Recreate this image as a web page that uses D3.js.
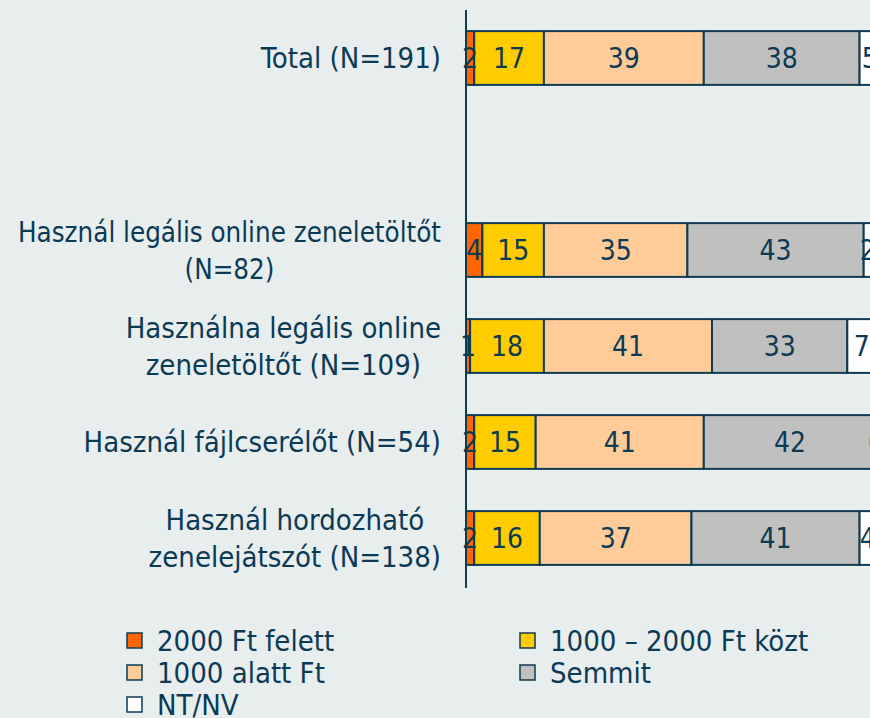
<!DOCTYPE html>
<html>
<head>
<meta charset="utf-8">
<script src="https://cdn.jsdelivr.net/npm/d3@7"></script>
<style>
  body { margin: 0; background: #e8edee; }
  svg { display: block; }
  text { font-family: "DejaVu Sans Condensed", "DejaVu Sans", sans-serif; fill: #0b3a55; }
</style>
</head>
<body>
<div id="chart-area"></div>
<script>
// categories (blank one is the gap after Total), lines split with "\n"
var categories = [
    "Total (N=191)",
    "",
    "Használ legális online zeneletöltőt\n(N=82)",
    "Használna legális online\nzeneletöltőt (N=109)",
    "Használ fájlcserélőt (N=54)",
    "Használ hordozható\nzenelejátszót (N=138)"
];

var seriesNames = ["2000 Ft felett", "1000 – 2000 Ft közt", "1000 alatt Ft", "Semmit", "NT/NV"];
var seriesColors = ["#ff6600", "#ffcc00", "#ffcc99", "#c0c0c0", "#ffffff"];

var felett = [2, null, 4, 1, 2, 2];
var kozt   = [17, null, 15, 18, 15, 16];
var alatt  = [39, null, 35, 41, 41, 37];
var semmit = [38, null, 43, 33, 42, 41];
var ntnv   = [5, null, 2, 7, 0, 4];

var allSeries = [felett, kozt, alatt, semmit, ntnv];

var width = 870, height = 718;

var svg = d3.select("#chart-area").append("svg")
    .attr("width", width)
    .attr("height", height);

svg.append("rect")
    .attr("width", width)
    .attr("height", height)
    .attr("fill", "#e8edee");

var x = d3.scaleLinear()
    .domain([0, 100])
    .range([466, 876]);

var y = d3.scaleBand()
    .domain(d3.range(categories.length))
    .range([10, 586])
    .paddingInner(0.44)
    .paddingOuter(0.22);

// build rows for stacking
var rows = categories.map((c, i) => {
    var r = { i: i };
    seriesNames.forEach((s, k) => { r[s] = allSeries[k][i] || 0; });
    return r;
}).filter(r => categories[r.i] !== "");

var stack = d3.stack().keys(seriesNames);
var stacked = stack(rows);

var color = d3.scaleOrdinal().domain(seriesNames).range(seriesColors);

var layers = svg.selectAll("g.layer")
    .data(stacked)
    .enter()
    .append("g")
    .attr("class", "layer")
    .attr("fill", d => color(d.key));

layers.selectAll("rect")
    .data(d => d)
    .enter()
    .append("rect")
    .attr("x", d => x(d[0]))
    .attr("y", d => y(d.data.i))
    .attr("width", d => x(d[1]) - x(d[0]))
    .attr("height", y.bandwidth())
    .attr("stroke", "#0d3b52")
    .attr("stroke-width", 2);

// value labels
stacked.forEach(layer => {
    svg.selectAll(null)
        .data(layer)
        .enter()
        .append("text")
        .attr("x", d => (x(d[0]) + x(d[1])) / 2)
        .attr("y", d => y(d.data.i) + y.bandwidth() / 2)
        .attr("dy", "0.36em")
        .attr("text-anchor", "middle")
        .attr("font-size", "28px")
        .text(d => d[1] - d[0]);
});

// axis line
svg.append("line")
    .attr("x1", 466).attr("x2", 466)
    .attr("y1", 10).attr("y2", 588)
    .attr("stroke", "#0d3b52")
    .attr("stroke-width", 2);

// category labels: centred block, right edge at 441, no wider than 423
var lineH = 37, maxBlock = 423;
categories.forEach((c, i) => {
    if (c === "") return;
    var lines = c.split("\n");
    var g = svg.append("g");
    var cy = y(i) + y.bandwidth() / 2;
    var texts = lines.map((ln, k) => g.append("text")
        .attr("y", cy + (k - (lines.length - 1) / 2) * lineH)
        .attr("dy", "0.36em")
        .attr("text-anchor", "middle")
        .attr("font-size", "29px")
        .text(ln));
    var maxW = d3.max(texts, t => t.node().getComputedTextLength());
    var k = maxW > maxBlock ? maxBlock / maxW : 1;
    texts.forEach(t => {
        var w = t.node().getComputedTextLength();
        if (k < 1) t.attr("textLength", w * k).attr("lengthAdjust", "spacingAndGlyphs");
        t.attr("x", 441 - Math.min(maxW, maxBlock) / 2);
    });
});

// legend
var legendPos = [[127, 641], [520, 641], [127, 673], [520, 673], [127, 705]];
seriesNames.forEach((s, k) => {
    var p = legendPos[k];
    svg.append("rect")
        .attr("x", p[0]).attr("y", p[1] - 8)
        .attr("width", 15).attr("height", 15)
        .attr("fill", color(s))
        .attr("stroke", "#0d3b52")
        .attr("stroke-width", 1.5);
    svg.append("text")
        .attr("x", p[0] + 30)
        .attr("y", p[1])
        .attr("dy", "0.36em")
        .attr("font-size", "29px")
        .text(s);
});
</script>
</body>
</html>
